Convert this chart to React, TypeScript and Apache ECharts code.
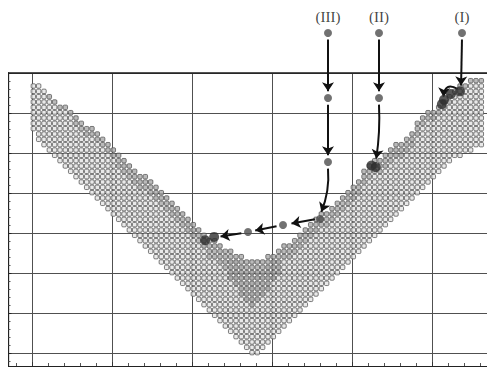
import React, { useEffect, useRef } from "react";
import * as echarts from "echarts";

// Lattice of cells: for each column c (0..84) the first and last occupied row
const topRow = [
  0, 0, 1, 2, 3, 4, 4, 5, 6, 7, 8, 8, 9, 10, 11, 12,
  13, 14, 15, 16, 17, 17, 18, 19, 20, 21, 22, 23, 24, 25, 26, 27, 28,
  29, 29, 30, 31, 31, 32, 32, 33, 33,
  33, 33, 32, 32, 31, 30, 30, 29, 28, 27, 26,
  25, 24, 24, 23, 22, 21, 20, 19, 18, 16, 15,
  14, 14, 13, 12, 11, 11, 10, 9,
  7, 6, 5, 5, 4, 3, 2, 1, 0, 0, -1, -1, -1,
];
const bottomRow = [
  8, 10, 11, 12, 13, 14, 15, 16, 17, 18,
  19, 20, 21, 22, 23, 24, 25, 26, 27, 28,
  29, 30, 31, 32, 33, 34, 35, 36, 37, 38,
  39, 40, 41, 42, 43, 44, 45, 46, 47, 48,
  49, 50,
  50,
  49, 48, 47, 46, 45, 44, 43, 42, 41, 40,
  39, 38, 37, 36, 35, 34, 33, 32, 31, 30,
  29, 28, 27, 26, 25, 24, 23, 22, 21, 20,
  19, 18, 17, 16, 15, 14, 13, 13, 12, 12,
  11, 11,
];
// depth of the grey band along the upper edge
const shadeDepth = [
  0, 0, 0, 1, 1, 1, 1, 1,
  2, 2, 2, 2, 2, 2, 2, 2, 3, 3, 3, 3,
  3, 3, 3, 3, 3, 3, 3, 3, 3, 3, 3, 3, 3,
  4, 4, 4, 4, 4, 4, 4, 4, 4,
  4, 4, 4, 4, 4, 3, 3, 3, 3, 3, 3,
  3, 3, 3, 3, 3, 3, 3, 3, 3, 3, 3,
  3, 3, 3, 3, 3, 3, 3, 3, 3,
  2, 2, 2, 2, 2, 2, 1, 1, 1, 1, 1, 1,
];
// darker patch at the bottom of the inner V
const darkCols = [37, 38, 39, 40, 41, 42, 43, 44, 45, 46];
const darkTop = [33, 33, 34, 35, 35, 35, 35, 34, 33, 33];
const darkBottom = [36, 37, 39, 40, 41, 40, 39, 38, 36, 35];

// annotations (column, row units)
const markerLabels = ["(III)", "(II)", "(I)"];
const markerCols = [55.25, 64.81, 80.37];
const markerRow = -9.94;
const pathDots = [
  [55.25, 2.25], [64.81, 2.25], [55.25, 14.25],
  [53.75, 24.94], [46.81, 26.06], [40.25, 27.37],
];
const bigDots = [
  [32.2, 28.9], [33.9, 28.3], [64.2, 15.2], [63.4, 14.9],
  [80.0, 1.0], [78.3, 1.5], [77.0, 2.6], [76.6, 3.4],
];
const arrowFrom = [
  [55.25, -8.7], [55.25, 3.5], [55.25, 15.5], [52.8, 25.0], [45.6, 26.3], [39.0, 27.6],
  [64.81, -8.7], [64.81, 3.5],
  [80.37, -8.7], [79.6, 0.6],
];
const arrowTo = [
  [55.25, 1.0], [55.25, 13.0], [54.0, 23.6], [48.4, 25.8], [41.6, 27.1], [35.1, 28.2],
  [64.81, 1.0], [64.3, 13.6],
  [80.2, -0.1], [76.9, 2.0],
];
const arrowCurve = [0, 0, 0.12, 0, 0, 0, 0, 0.05, 0, -0.8];

export default function App() {
  const ref = useRef<HTMLDivElement>(null);
  useEffect(() => {
    if (!ref.current) return;
    const chart = echarts.init(ref.current, null, { renderer: "svg" });

    const light: number[][] = [];
    const shaded: number[][] = [];
    const dark: number[][] = [];
    topRow.forEach((t, c) => {
      const b = bottomRow[c];
      const di = darkCols.indexOf(c);
      for (let r = t; r <= b; r++) {
        if (di >= 0 && r >= darkTop[di] && r <= darkBottom[di]) dark.push([c, r]);
        else if (r < t + shadeDepth[c]) shaded.push([c, r]);
        else light.push([c, r]);
      }
    });

    const cellStyle = (fill: string) => ({
      color: fill,
      borderColor: "#4a4a4a",
      borderWidth: 0.9,
    });

    const xMin = -15.25;
    const xMax = 89.75;
    const yMin = -2.4375;
    const yMax = 52.5;

    const labelStyle = {
      show: true, position: "top", distance: 4, formatter: "{b}",
      fontFamily: "Liberation Serif", fontSize: 15, color: "#111",
      textBorderWidth: 0,
    };

    chart.setOption({
      animation: false,
      grid: { left: -56, right: -17, top: 65, bottom: 1, containLabel: false, outerBoundsMode: "none" },
      xAxis: [
        {
          type: "value", min: xMin, max: xMax, interval: 15, position: "bottom",
          axisLine: { show: true, onZero: false, lineStyle: { color: "#222", width: 1.2 } },
          axisTick: { show: true, inside: true, length: 4, lineStyle: { color: "#333" } },
          minorTick: { show: true, splitNumber: 5, length: 3, lineStyle: { color: "#555" } },
          axisLabel: { show: false },
          splitLine: { show: true, lineStyle: { color: "#505050", width: 1 } },
        },
        {
          type: "value", min: xMin, max: xMax, interval: 15, position: "top",
          axisLine: { show: true, onZero: false, lineStyle: { color: "#1a1a1a", width: 1.6 } },
          axisTick: { show: false }, axisLabel: { show: false }, splitLine: { show: false },
        },
      ],
      yAxis: {
        type: "value", inverse: true, min: yMin, max: yMax, interval: 7.5, offset: -56.5,
        axisLine: { show: true, onZero: false, lineStyle: { color: "#222", width: 1.3 } },
        axisTick: { show: true, inside: true, length: 3, lineStyle: { color: "#222" } },
        minorTick: { show: true, splitNumber: 5, length: 2, lineStyle: { color: "#555" } },
        axisLabel: { show: false },
        splitLine: { show: true, lineStyle: { color: "#505050", width: 1 } },
      },
      series: [
        { type: "scatter", data: light, symbol: "roundRect", symbolSize: 4.4, itemStyle: cellStyle("#e4e4e4"), silent: true, z: 2, progressive: 0 },
        { type: "scatter", data: shaded, symbol: "roundRect", symbolSize: 4.4, itemStyle: cellStyle("#a9a9a9"), silent: true, z: 2, progressive: 0 },
        { type: "scatter", data: dark, symbol: "roundRect", symbolSize: 4.4, itemStyle: cellStyle("#9a9a9a"), silent: true, z: 2, progressive: 0 },
        {
          type: "lines", coordinateSystem: "cartesian2d", clip: false, silent: true, z: 4,
          symbol: ["none", "arrow"], symbolSize: 9,
          lineStyle: { color: "#111", width: 2, opacity: 1, curveness: 0 },
          data: arrowFrom.map((f, i) => ({ coords: [f, arrowTo[i]], lineStyle: { curveness: arrowCurve[i] } })),
        },
        {
          type: "scatter", clip: false, silent: true, z: 5, symbolSize: 8,
          itemStyle: { color: "#4d4d4d" },
          data: markerCols.map((c, i) => ({
            value: [c, markerRow], name: markerLabels[i],
            label: { color: "#111" },
          })),
          label: labelStyle,
        },
        { type: "scatter", clip: false, silent: true, z: 5, symbolSize: 8, itemStyle: { color: "#4d4d4d" }, data: pathDots },
        { type: "scatter", clip: false, silent: true, z: 5, symbolSize: 10, itemStyle: { color: "#2e2e2e" }, data: bigDots },
      ],
    });
    return () => chart.dispose();
  }, []);
  return <div ref={ref} style={{ width: 487, height: 359 }} />;
}
